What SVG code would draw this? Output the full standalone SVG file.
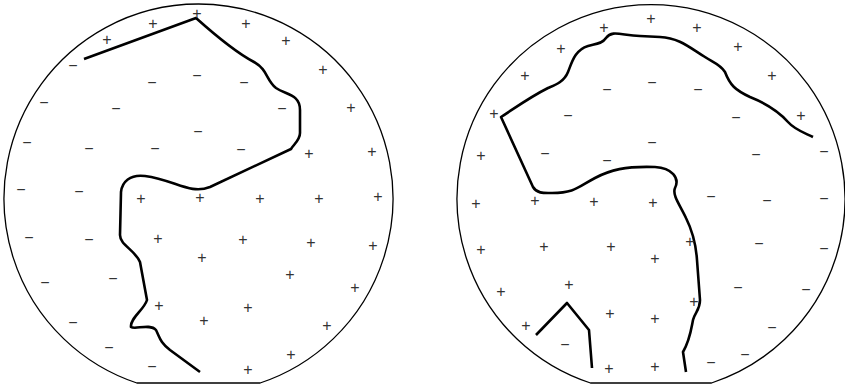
<svg xmlns="http://www.w3.org/2000/svg" width="845" height="386" viewBox="0 0 845 386">
<style>
.disk{fill:#fff;stroke:#000;stroke-width:1.3}
.front{fill:none;stroke:#000;stroke-width:2.6;stroke-linejoin:round;stroke-linecap:butt}
.s{font-family:"Liberation Sans",Arial,sans-serif;font-size:16px;fill:#333;text-anchor:middle}
</style>
<rect width="845" height="386" fill="#fff"/>
<g id="left-disk">
<path class="disk" d="M 136.9 383 A 194.5 194.5 0 1 1 260.1 383 Z"/>
<path class="front" d="M 84 59 L 196 18 C 215 35 235 52 254 62 C 268 70 266 80 276 88 C 286 95 300 94 300 110 L 300 133 C 300 140 294 144 291 149 L 210 187 C 190 195 175 180 145 176 C 130 174 122 182 121 192 L 120 235 C 120 245 135 250 140 262 L 147 300 C 144 310 130 318 131 327 C 135 330 150 323 156 330 C 160 338 160 342 170 350 L 200 372"/>
<g id="left-plus">
<text class="s" x="107" y="45">+</text><text class="s" x="153" y="29">+</text><text class="s" x="197" y="19">+</text><text class="s" x="246" y="29">+</text><text class="s" x="286" y="46">+</text><text class="s" x="323" y="75">+</text><text class="s" x="351" y="113">+</text><text class="s" x="309" y="159">+</text><text class="s" x="372" y="157">+</text><text class="s" x="141" y="204">+</text><text class="s" x="200" y="203">+</text><text class="s" x="260" y="204">+</text><text class="s" x="319" y="204">+</text><text class="s" x="378" y="202">+</text><text class="s" x="158" y="244">+</text><text class="s" x="243" y="245">+</text><text class="s" x="311" y="248">+</text><text class="s" x="373" y="251">+</text><text class="s" x="202" y="263">+</text><text class="s" x="290" y="280">+</text><text class="s" x="355" y="293">+</text><text class="s" x="159" y="311">+</text><text class="s" x="248" y="313">+</text><text class="s" x="204" y="326">+</text><text class="s" x="327" y="331">+</text><text class="s" x="291" y="360">+</text><text class="s" x="248" y="375">+</text>
</g>
<g id="left-minus">
<text class="s" x="73" y="71">−</text><text class="s" x="152" y="88">−</text><text class="s" x="197" y="81">−</text><text class="s" x="244" y="88">−</text><text class="s" x="44" y="108">−</text><text class="s" x="116" y="114">−</text><text class="s" x="282" y="114">−</text><text class="s" x="198" y="137">−</text><text class="s" x="27" y="148">−</text><text class="s" x="89" y="154">−</text><text class="s" x="155" y="154">−</text><text class="s" x="241" y="155">−</text><text class="s" x="21" y="195">−</text><text class="s" x="79" y="197">−</text><text class="s" x="29" y="243">−</text><text class="s" x="89" y="245">−</text><text class="s" x="45" y="288">−</text><text class="s" x="113" y="284">−</text><text class="s" x="73" y="328">−</text><text class="s" x="109" y="353">−</text><text class="s" x="152" y="372">−</text>
</g>
</g>
<g id="right-disk">
<path class="disk" d="M 590.5 383 A 194 194 0 1 1 711.5 383 Z"/>
<path class="front" d="M 813 137 C 805 133 795 130 788 122 C 780 113 770 105 750 97 C 735 90 730 85 725 72 C 720 64 712 62 705 57 C 690 48 680 38 660 37 L 640 36 C 620 35 612 30 606 38 C 602 44 595 44 588 46 C 575 50 572 62 568 72 C 564 82 555 85 548 88 C 530 97 515 108 501 117 L 533 187 C 537 194 545 193 552 193 C 575 193 578 187 595 178 C 610 170 625 166 655 167 C 672 168 680 178 675 188 C 672 195 680 205 686 218 C 693 232 696 245 697 260 L 700 300 C 700 310 695 312 693 320 C 691 330 690 340 683 352 L 686 372"/>
<path class="front" d="M 536 335 L 567 303 L 589 330 L 592 368"/>
<g id="right-plus">
<text class="s" x="604" y="33">+</text><text class="s" x="651" y="24">+</text><text class="s" x="697" y="33">+</text><text class="s" x="738" y="52">+</text><text class="s" x="772" y="81">+</text><text class="s" x="801" y="121">+</text><text class="s" x="561" y="54">+</text><text class="s" x="525" y="81">+</text><text class="s" x="494" y="119">+</text><text class="s" x="481" y="161">+</text><text class="s" x="476" y="209">+</text><text class="s" x="535" y="206">+</text><text class="s" x="594" y="207">+</text><text class="s" x="653" y="208">+</text><text class="s" x="481" y="255">+</text><text class="s" x="544" y="252">+</text><text class="s" x="611" y="252">+</text><text class="s" x="690" y="247">+</text><text class="s" x="655" y="264">+</text><text class="s" x="501" y="297">+</text><text class="s" x="569" y="290">+</text><text class="s" x="694" y="307">+</text><text class="s" x="610" y="319">+</text><text class="s" x="655" y="324">+</text><text class="s" x="526" y="331">+</text><text class="s" x="609" y="374">+</text><text class="s" x="655" y="372">+</text>
</g>
<g id="right-minus">
<text class="s" x="607" y="95">−</text><text class="s" x="652" y="88">−</text><text class="s" x="698" y="95">−</text><text class="s" x="568" y="121">−</text><text class="s" x="736" y="123">−</text><text class="s" x="545" y="159">−</text><text class="s" x="607" y="166">−</text><text class="s" x="652" y="148">−</text><text class="s" x="756" y="160">−</text><text class="s" x="824" y="157">−</text><text class="s" x="711" y="202">−</text><text class="s" x="767" y="206">−</text><text class="s" x="824" y="204">−</text><text class="s" x="759" y="249">−</text><text class="s" x="824" y="254">−</text><text class="s" x="738" y="293">−</text><text class="s" x="806" y="295">−</text><text class="s" x="772" y="333">−</text><text class="s" x="745" y="360">−</text><text class="s" x="711" y="368">−</text><text class="s" x="565" y="350">−</text>
</g>
</g>
</svg>
